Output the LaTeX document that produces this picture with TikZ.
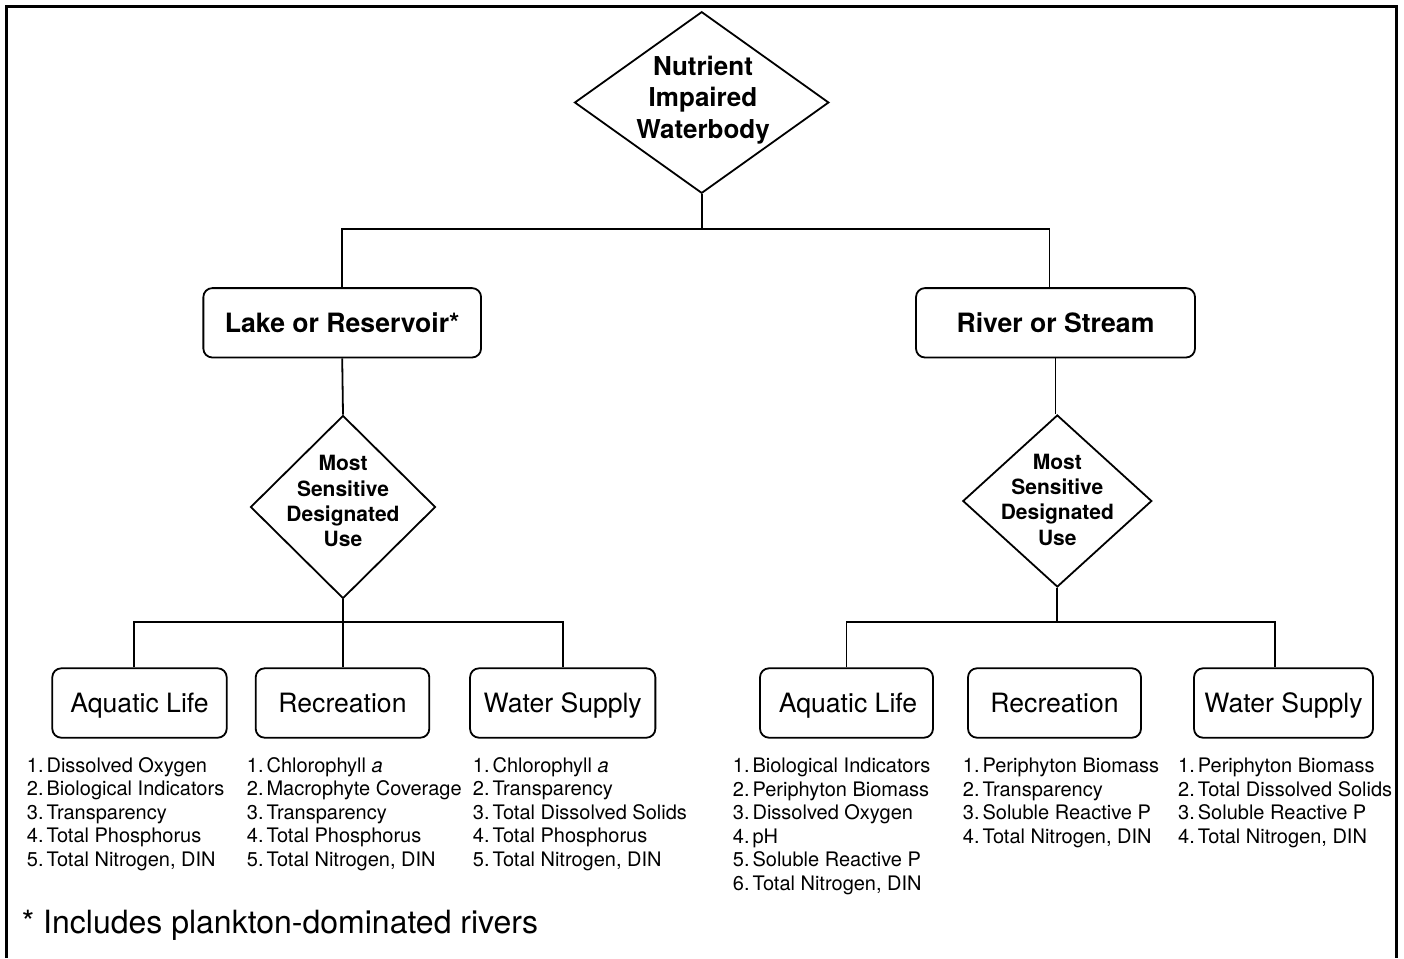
\documentclass[tikz,border=0pt]{standalone}
\usepackage{fontspec}
\setmainfont{TeX Gyre Heros}
\usetikzlibrary{shapes.geometric}
\newcommand{\itm}[1]{#1.\hspace{3pt}}
\begin{document}
\begin{tikzpicture}[x=1pt,y=-1pt,
  conn/.style={line width=1.8pt},
  dia/.style={draw, line width=1.8pt, diamond, inner sep=0pt},
  rbox/.style={draw, line width=1.8pt, rounded corners=9pt, inner sep=0pt, minimum height=69.4pt},
  boxtxt/.style={font=\fontsize{26.6}{30}\selectfont, text height=19pt, text depth=0pt},
  boxbold/.style={font=\fontsize{26.6}{30}\selectfont\bfseries, text height=19pt, text depth=0pt},
  lst/.style={anchor=base west, inner sep=0pt, font=\fontsize{20}{23.5}\selectfont},
  dtxtbig/.style={anchor=base, inner sep=0pt, font=\fontsize{26}{31.7}\selectfont\bfseries},
  dtxt/.style={anchor=base, inner sep=0pt, font=\fontsize{21}{25.3}\selectfont\bfseries},
  frame/.style={line width=3.4pt, line join=miter}
]
\useasboundingbox (0,0) rectangle (1404,958);
\draw[frame] (6.5,958) -- (6.5,6.5) -- (1396.7,6.5) -- (1396.7,958);

% top decision
\node[dia, minimum width=254.3pt, minimum height=181.6pt] (top) at (701.7,102.5) {};
\node[dtxtbig] (toptxt) at (703,75) {\begin{tabular}[t]{@{}c@{}}Nutrient\\Impaired\\Waterbody\end{tabular}};

% waterbody types
\node[rbox, boxbold, minimum width=277.7pt] (lake) at (342.2,322.8) {Lake or Reservoir*};
\node[rbox, boxbold, minimum width=279pt] (river) at (1055.5,322.8) {River or Stream};

\coordinate (j) at (701.7,229.3);
\draw[conn] (top.south) -- (j);
\draw[conn] (lake.north) |- (j) -| ([xshift=-6pt]river.north);

% designated use decisions
\node[dia, minimum width=185pt, minimum height=183pt] (dL) at (343,507) {};
\node[dtxt] (dLtxt) at (343,470.7) {\begin{tabular}[t]{@{}c@{}}Most\\Sensitive\\Designated\\Use\end{tabular}};
\node[dia, minimum width=189pt, minimum height=172pt] (dR) at (1057.3,501) {};
\node[dtxt] (dRtxt) at (1057.3,469.3) {\begin{tabular}[t]{@{}c@{}}Most\\Sensitive\\Designated\\Use\end{tabular}};

\draw[conn] (lake.south) -- (dL.north);
\draw[conn] (river.south) -- (river.south |- dR.north);

% use boxes left
\node[rbox, boxtxt, minimum width=174.4pt] (aqL) at (139.5,703) {Aquatic Life};
\node[rbox, boxtxt, minimum width=173.6pt] (recL) at (342.5,703) {Recreation};
\node[rbox, boxtxt, minimum width=185.3pt] (wsL) at (562.7,703) {Water Supply};

\coordinate (jL) at (343,622);
\draw[conn] (dL.south) -- (jL);
\draw[conn] ([xshift=-5.5pt]aqL.north) |- (jL) -| (wsL.north);
\draw[conn] (jL) -- (recL.north -| jL);

% use boxes right
\node[rbox, boxtxt, minimum width=173pt] (aqR) at (846.5,703) {\hspace{3pt}Aquatic Life};
\node[rbox, boxtxt, minimum width=173pt] (recR) at (1054.5,703) {Recreation};
\node[rbox, boxtxt, minimum width=179pt] (wsR) at (1283.5,703) {Water Supply};

\coordinate (jR) at (1057.3,622);
\draw[conn] (dR.south) -- (jR);
\draw[conn] (aqR.north) |- (jR) -| ([xshift=-8.5pt]wsR.north);
\draw[conn] (recR.north -| 1055,622) -- (recR.north -| 1055,0);

% lists
\node[lst] (lAq) at (26.7,772) {\begin{tabular}[t]{@{}l@{}}\itm1Dissolved Oxygen\\\itm2Biological Indicators\\\itm3Transparency\\\itm4Total Phosphorus\\\itm5Total Nitrogen, DIN\end{tabular}};
\node[lst] (lRec) at (246.7,772) {\begin{tabular}[t]{@{}l@{}}\itm1Chlorophyll \textit{a}\\\itm2Macrophyte Coverage\\\itm3Transparency\\\itm4Total Phosphorus\\\itm5Total Nitrogen, DIN\end{tabular}};
\node[lst] (lWs) at (472.7,772) {\begin{tabular}[t]{@{}l@{}}\itm1Chlorophyll \textit{a}\\\itm2Transparency\\\itm3Total Dissolved Solids\\\itm4Total Phosphorus\\\itm5Total Nitrogen, DIN\end{tabular}};
\node[lst] (rAq) at (732.7,772.7) {\begin{tabular}[t]{@{}l@{}}\itm1Biological Indicators\\\itm2Periphyton Biomass\\\itm3Dissolved Oxygen\\\itm4pH\\\itm5Soluble Reactive P\\\itm6Total Nitrogen, DIN\end{tabular}};
\node[lst] (rRec) at (962.7,772.7) {\begin{tabular}[t]{@{}l@{}}\itm1Periphyton Biomass\\\itm2Transparency\\\itm3Soluble Reactive P\\\itm4Total Nitrogen, DIN\end{tabular}};
\node[lst] (rWs) at (1178,772.7) {\begin{tabular}[t]{@{}l@{}}\itm1Periphyton Biomass\\\itm2Total Dissolved Solids\\\itm3Soluble Reactive P\\\itm4Total Nitrogen, DIN\end{tabular}};

% footnote
\node[anchor=base west, inner sep=0pt, font=\fontsize{32}{37}\selectfont] (note) at (21.7,933.3) {* Includes plankton-dominated rivers};
\end{tikzpicture}
\end{document}
